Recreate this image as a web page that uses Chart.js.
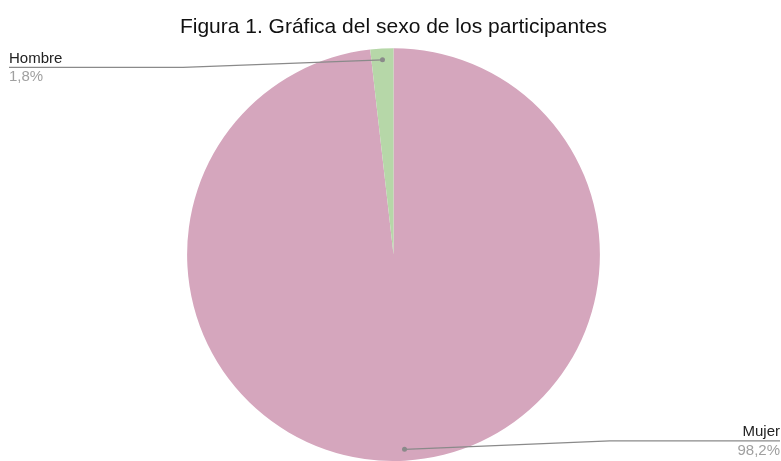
<!DOCTYPE html>
<html>
<head>
<meta charset="utf-8">
<script src="https://cdn.jsdelivr.net/npm/chart.js@4"></script>
<style>
  html, body { margin: 0; padding: 0; background: #fff; }
  #wrap { width: 781px; height: 461px; position: relative; }
</style>
</head>
<body>
<div id="wrap"><canvas id="c" width="781" height="461"></canvas></div>
<script>
// Participant sex breakdown (percent)
const categories = ['Mujer', 'Hombre'];
const values = [98.2, 1.8];
const valueLabels = ['98,2%', '1,8%'];
const sliceColors = ['#d5a6bd', '#b6d7a8'];

// Leader lines with name / percentage labels at the chart edges
const sideLabels = {
  id: 'sideLabels',
  afterDraw(chart) {
    const ctx = chart.ctx;
    const meta = chart.getDatasetMeta(0);
    const W = chart.width;
    meta.data.forEach((arc, i) => {
      const p = arc.getProps(['x', 'y', 'startAngle', 'endAngle', 'outerRadius'], true);
      const mid = (p.startAngle + p.endAngle) / 2;
      const r = p.outerRadius;
      const dx = p.x + Math.cos(mid) * r * 0.945;
      const dy = p.y + Math.sin(mid) * r * 0.945;
      const left = Math.cos(mid) < 0;
      const lineY = left ? dy + 7.5 : dy - 8.5;
      const elbowX = left ? p.x - r - 4 : p.x + r + 10;
      const endX = left ? 9 : W - 1;

      ctx.save();
      ctx.strokeStyle = '#8a8a8a';
      ctx.lineWidth = 1.3;
      ctx.beginPath();
      ctx.moveTo(dx, dy);
      ctx.lineTo(elbowX, lineY);
      ctx.lineTo(endX, lineY);
      ctx.stroke();
      ctx.fillStyle = '#8a8a8a';
      ctx.beginPath();
      ctx.arc(dx, dy, 2.5, 0, Math.PI * 2);
      ctx.fill();

      ctx.textAlign = left ? 'left' : 'right';
      ctx.textBaseline = 'alphabetic';
      ctx.font = '15px "Liberation Sans", Arial, sans-serif';
      ctx.fillStyle = '#222222';
      ctx.fillText(categories[i], endX, lineY - 4.5);
      ctx.fillStyle = '#a0a0a0';
      ctx.fillText(valueLabels[i], endX, lineY + 14);
      ctx.restore();
    });
  }
};

new Chart(document.getElementById('c'), {
  type: 'pie',
  data: {
    labels: categories,
    datasets: [{
      data: values,
      backgroundColor: sliceColors,
      borderWidth: 0
    }]
  },
  options: {
    responsive: false,
    animation: false,
    layout: { padding: { top: 6, left: 6, right: 0, bottom: 0 } },
    plugins: {
      legend: { display: false },
      tooltip: { enabled: false },
      title: {
        display: true,
        text: 'Figura 1. Gráfica del sexo de los participantes',
        color: '#111111',
        font: { family: '"Liberation Sans", Arial, sans-serif', size: 21, weight: 'normal' },
        padding: { top: 9, bottom: 8 }
      }
    }
  },
  plugins: [sideLabels]
});
</script>
</body>
</html>
